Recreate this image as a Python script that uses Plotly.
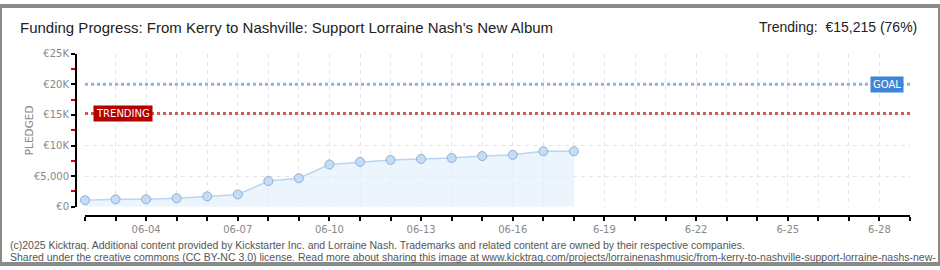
import plotly.graph_objects as go

# ---- data ----
dates = ["2025-06-02", "2025-06-03", "2025-06-04", "2025-06-05", "2025-06-06", "2025-06-07",
         "2025-06-08", "2025-06-09", "2025-06-10", "2025-06-11", "2025-06-12", "2025-06-13",
         "2025-06-14", "2025-06-15", "2025-06-16", "2025-06-17", "2025-06-18"]
pledged = [1050, 1200, 1200, 1370, 1680, 2000, 4190, 4660, 6900, 7330, 7640, 7800,
           7960, 8270, 8480, 9050, 9050]
goal = 20000
trending = 15215
range_start = "2025-06-02"
range_end = "2025-06-29"
tick_days = ["2025-06-%02d" % d for d in range(2, 30)]
tick_label_map = {"2025-06-04": "06-04", "2025-06-07": "06-07", "2025-06-10": "06-10",
                  "2025-06-13": "06-13", "2025-06-16": "06-16", "2025-06-19": "6-19",
                  "2025-06-22": "6-22", "2025-06-25": "6-25", "2025-06-28": "6-28"}
tick_text = [tick_label_map.get(d, "") for d in tick_days]
y_tickvals = [0, 5000, 10000, 15000, 20000, 25000]
y_ticktext = ["€0", "€5,000", "€10K", "€15K", "€20K", "€25K"]

W, H = 940, 270
title_font = "Liberation Sans, sans-serif"
small_font = "DejaVu Sans, sans-serif"

fig = go.Figure()

# goal & trending lines
fig.add_trace(go.Scatter(x=[range_start, range_end], y=[goal, goal], mode="lines",
                         line=dict(color="#8fb4e0", width=3, dash="3px,3px"),
                         hoverinfo="skip", cliponaxis=False))
fig.add_trace(go.Scatter(x=[range_start, range_end], y=[trending, trending], mode="lines",
                         line=dict(color="#cf5a5a", width=3, dash="3px,3px"),
                         hoverinfo="skip", cliponaxis=False))

# pledged series
fig.add_trace(go.Scatter(x=dates, y=pledged, mode="lines+markers",
                         line=dict(color="#b8d6f4", width=1.5),
                         fill="tozeroy", fillcolor="rgba(228,239,252,0.7)",
                         marker=dict(size=9, color="#c3ddf7", line=dict(color="#93aed0", width=1)),
                         cliponaxis=False))

fig.update_layout(
    width=W, height=H,
    margin=dict(l=0, r=0, t=0, b=0),
    paper_bgcolor="white", plot_bgcolor="white",
    showlegend=False,
    xaxis=dict(domain=[85 / W, 910 / W], anchor="free", position=(H - 220) / H,
               type="date", range=[range_start, range_end],
               tickvals=tick_days, ticktext=tick_text, ticks="outside", ticklen=4,
               tickcolor="black", tickwidth=1.5,
               showline=True, linecolor="black", linewidth=2,
               showgrid=True, gridcolor="#e4e4e4", griddash="4px,4px", gridwidth=1,
               tickfont=dict(family=small_font, size=10, color="#888888"),
               zeroline=False),
    yaxis=dict(domain=[(H - 210) / H, (H - 50) / H], anchor="free", position=76 / W,
               range=[0, 25000], tickvals=y_tickvals, ticktext=y_ticktext,
               ticks="outside", ticklen=4, tickcolor="black", tickwidth=1.5,
               showline=True, linecolor="black", linewidth=2,
               showgrid=True, gridcolor="#e4e4e4", griddash="4px,4px", gridwidth=1,
               tickfont=dict(family=small_font, size=10, color="#888888"),
               minor=dict(dtick=2500, ticks="outside", ticklen=4, tickcolor="#e00000",
                          showgrid=False),
               zeroline=False),
)

annotations = [
    dict(text="Funding Progress: From Kerry to Nashville: Support Lorraine Nash's New Album",
         x=18 / W, y=(H - 23) / H, xref="paper", yref="paper", xanchor="left", yanchor="middle",
         showarrow=False, font=dict(family=title_font, size=15, color="#222222")),
    dict(text="Trending:  €15,215 (76%)",
         x=919 / W, y=(H - 22) / H, xref="paper", yref="paper", xanchor="right", yanchor="middle",
         showarrow=False, font=dict(family=title_font, size=14, color="#222222")),
    dict(text="PLEDGED", x=21 / W, y=(H - 130) / H, xref="paper", yref="paper",
         textangle=-90, showarrow=False,
         font=dict(family=small_font, size=10.5, color="#888888")),
    dict(text="TRENDING", x=93 / W, y=trending, xref="paper", yref="y", xanchor="left",
         yanchor="middle", showarrow=False, bgcolor="#b50000", borderpad=2,
         font=dict(family=small_font, size=10, color="white")),
    dict(text="GOAL", x=904 / W, y=goal, xref="paper", yref="y", xanchor="right",
         yanchor="middle", showarrow=False, bgcolor="#3d85d6", borderpad=2,
         font=dict(family=small_font, size=10, color="white")),
    dict(text="(c)2025 Kicktraq. Additional content provided by Kickstarter Inc. and Lorraine Nash. "
              "Trademarks and related content are owned by their respective companies.",
         x=8 / W, y=(H - 250) / H, xref="paper", yref="paper", xanchor="left", yanchor="middle",
         showarrow=False, font=dict(family="Liberation Sans, sans-serif", size=10.5, color="#555555")),
    dict(text="Shared under the creative commons (CC BY-NC 3.0) license. Read more about sharing this "
              "image at www.kicktraq.com/projects/lorrainenashmusic/from-kerry-to-nashville-support-lorraine-nashs-new-",
         x=8 / W, y=(H - 263) / H, xref="paper", yref="paper", xanchor="left", yanchor="middle",
         showarrow=False, font=dict(family="Liberation Sans, sans-serif", size=10.5, color="#555555")),
]
fig.update_layout(annotations=annotations)

fig.add_shape(type="rect", xref="paper", yref="paper", x0=0, x1=1, y0=0, y1=1,
              line=dict(color="#8a8a8a", width=4), layer="above")

fig.write_html("out.html")
